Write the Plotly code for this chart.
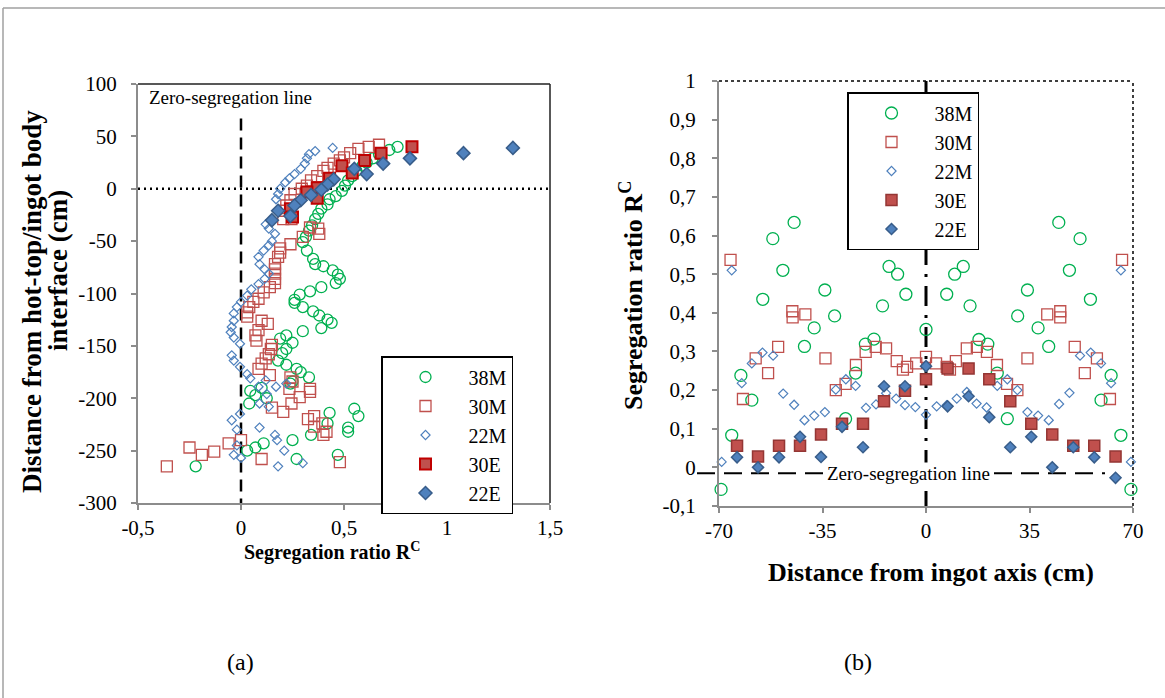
import plotly.graph_objects as go

# ---------------- data: panel (a)  (segregation ratio, distance cm) ----------------
a_38M = [(0.76, 40), (0.72, 37), (0.67, 33), (0.64, 29), (0.61, 25), (0.59, 22), (0.56, 17),
         (0.54, 12), (0.52, 8), (0.505, 3), (0.49, -2), (0.46, -7), (0.43, -10), (0.42, -15),
         (0.39, -19), (0.375, -24), (0.36, -29), (0.345, -35), (0.33, -40), (0.315, -46),
         (0.30, -51), (0.32, -59), (0.35, -67), (0.36, -72), (0.40, -74), (0.445, -78),
         (0.47, -82), (0.48, -86), (0.46, -90), (0.39, -94), (0.335, -98), (0.285, -101),
         (0.26, -106), (0.26, -109), (0.30, -113), (0.35, -117), (0.38, -121), (0.42, -125),
         (0.44, -128), (0.39, -133), (0.30, -136), (0.22, -140), (0.19, -143), (0.25, -147),
         (0.22, -153), (0.20, -157), (0.18, -164), (0.22, -168), (0.27, -172), (0.29, -175),
         (0.33, -180), (0.25, -184), (0.24, -186), (0.10, -190), (0.045, -193), (0.07, -197),
         (0.125, -200), (0.04, -205), (0.55, -210), (0.43, -214), (0.57, -217), (0.42, -224),
         (0.52, -228), (0.52, -232), (0.34, -235), (0.25, -240), (0.11, -243), (0.07, -247),
         (0.03, -250), (0.47, -254), (0.27, -258), (-0.22, -265)]

a_30M = [(0.67, 42), (0.62, 40), (0.57, 38), (0.53, 34), (0.50, 30), (0.48, 27), (0.45, 24),
         (0.42, 20), (0.40, 17), (0.37, 12), (0.34, 8), (0.32, 3), (0.295, 0), (0.26, -5),
         (0.24, -11), (0.22, -16), (0.21, -21), (0.205, -29), (0.245, -29), (0.335, -37),
         (0.375, -38), (0.38, -43), (0.30, -46), (0.24, -53), (0.19, -57), (0.19, -61),
         (0.18, -65), (0.165, -72), (0.165, -77), (0.165, -81), (0.165, -86), (0.165, -90),
         (0.14, -94), (0.11, -99), (0.085, -105), (0.06, -108), (0.04, -113), (0.03, -118),
         (0.03, -122), (0.10, -126), (0.13, -129), (0.085, -135), (0.07, -140), (0.075, -145),
         (0.15, -149), (0.145, -153), (0.135, -158), (0.12, -162), (0.10, -167), (0.085, -172),
         (0.14, -178), (0.24, -180), (0.25, -184), (0.335, -191), (0.235, -191), (0.285, -199),
         (0.335, -194), (0.245, -205), (0.15, -209), (0.205, -213), (0.355, -217), (0.325, -220),
         (0.395, -224), (0.355, -227), (0.415, -232), (0.40, -235), (0.00, -240), (-0.06, -243),
         (-0.25, -247), (-0.13, -251), (-0.19, -254), (0.10, -258), (0.48, -261), (-0.36, -265)]

a_22M = [(0.445, 39), (0.36, 36), (0.33, 33), (0.32, 29), (0.31, 24), (0.29, 19), (0.26, 14),
         (0.235, 10), (0.215, 6), (0.19, 0), (0.18, -5), (0.17, -10), (0.12, -34), (0.135, -38),
         (0.165, -43), (0.15, -50), (0.135, -54), (0.11, -59), (0.085, -65), (0.09, -72),
         (0.115, -77), (0.135, -81), (0.115, -86), (0.085, -91), (0.05, -96), (0.03, -102),
         (0.00, -108), (-0.02, -113), (-0.035, -119), (-0.035, -126), (-0.045, -132),
         (-0.05, -137), (-0.035, -142), (-0.005, -148), (-0.045, -159), (-0.035, -164),
         (-0.005, -170), (0.03, -177), (0.045, -181), (0.12, -183), (0.22, -186), (0.17, -189),
         (0.085, -189), (0.125, -196), (0.09, -205), (0.135, -208), (-0.005, -215),
         (-0.045, -221), (0.09, -228), (-0.02, -230), (0.165, -235), (0.175, -240),
         (-0.02, -245), (0.21, -250), (-0.035, -254), (0.00, -257), (0.30, -262), (0.18, -265)]

a_30E = [(0.83, 40), (0.68, 34), (0.60, 27), (0.49, 22), (0.54, 15), (0.43, 10), (0.37, 1),
         (0.32, -3), (0.37, -9), (0.24, -19), (0.25, -27)]

a_22E = [(1.32, 39), (1.08, 34), (0.82, 29), (0.69, 24), (0.55, 19), (0.61, 14), (0.45, 9),
         (0.42, 4), (0.39, -1), (0.34, -6), (0.29, -11), (0.26, -16), (0.18, -21), (0.24, -26),
         (0.15, -30)]

# ---------------- data: panel (b)  (distance from axis cm, segregation ratio) ----------------
b_38M = [(-69.3, -0.057), (-65.7, 0.083), (-62.6, 0.238), (-58.9, 0.174), (-55.2, 0.435),
         (-51.8, 0.592), (-48.4, 0.51), (-44.6, 0.634), (-41.1, 0.313), (-37.8, 0.361),
         (-34.2, 0.459), (-30.9, 0.392), (-27.2, 0.126), (-23.8, 0.244), (-20.5, 0.319),
         (-17.6, 0.332), (-14.7, 0.418), (-12.5, 0.52), (-9.6, 0.50), (-6.8, 0.448), (0, 0.357),
         (7.0, 0.448), (9.7, 0.50), (12.6, 0.52), (14.9, 0.418), (17.9, 0.331), (20.9, 0.319),
         (24.1, 0.244), (27.5, 0.126), (31.0, 0.392), (34.3, 0.459), (37.9, 0.361), (41.5, 0.313),
         (44.9, 0.634), (48.5, 0.51), (52.1, 0.592), (55.6, 0.435), (59.2, 0.174), (62.6, 0.238),
         (65.9, 0.083), (69.3, -0.057)]

b_30M = [(-66.1, 0.537), (-61.9, 0.177), (-57.6, 0.282), (-53.4, 0.244), (-50.0, 0.312),
         (-45.2, 0.404), (-45.1, 0.388), (-40.8, 0.396), (-34.0, 0.282), (-30.5, 0.200),
         (-27.2, 0.216), (-23.7, 0.265), (-20.4, 0.299), (-17.0, 0.312), (-13.5, 0.308),
         (-9.9, 0.275), (-7.8, 0.253), (-6.4, 0.260), (-3.3, 0.269), (0, 0.286), (3.4, 0.269),
         (7.0, 0.260), (8.1, 0.253), (10.1, 0.275), (13.8, 0.308), (17.2, 0.312), (20.6, 0.299),
         (24.0, 0.265), (27.4, 0.216), (30.9, 0.200), (34.3, 0.282), (41.0, 0.396), (45.4, 0.404),
         (45.4, 0.388), (50.3, 0.312), (53.7, 0.244), (57.8, 0.282), (62.2, 0.177), (66.3, 0.537)]

b_22M = [(-69.1, 0.014), (-65.7, 0.51), (-62.3, 0.218), (-58.9, 0.269), (-55.3, 0.297),
         (-51.7, 0.289), (-48.3, 0.191), (-44.6, 0.162), (-41.1, 0.122), (-37.8, 0.134),
         (-34.2, 0.143), (-30.5, 0.201), (-27.1, 0.228), (-23.8, 0.211), (-20.3, 0.154),
         (-16.9, 0.163), (-13.5, 0.192), (-10.1, 0.178), (-7.1, 0.161), (-3.6, 0.156), (0, 0.136),
         (3.6, 0.158), (7.0, 0.161), (10.4, 0.178), (13.8, 0.195), (17.1, 0.165), (20.5, 0.155),
         (24.1, 0.211), (27.5, 0.228), (30.9, 0.200), (34.3, 0.143), (37.9, 0.134), (41.5, 0.122),
         (45.0, 0.164), (48.5, 0.193), (52.1, 0.289), (55.7, 0.297), (59.2, 0.269), (62.6, 0.218),
         (65.9, 0.51), (69.3, 0.014)]

b_30E = [(-63.9, 0.056), (-56.8, 0.028), (-49.7, 0.056), (-42.6, 0.056), (-35.5, 0.085),
         (-28.4, 0.113), (-21.3, 0.113), (-14.2, 0.171), (-7.1, 0.198), (0, 0.228), (7.3, 0.256),
         (14.4, 0.256), (21.4, 0.228), (28.5, 0.171), (35.6, 0.113), (42.7, 0.085), (49.8, 0.056),
         (56.9, 0.056), (64.1, 0.028)]

b_22E = [(-63.9, 0.026), (-56.8, 0.0), (-49.7, 0.026), (-42.6, 0.079), (-35.5, 0.027),
         (-28.4, 0.105), (-21.3, 0.052), (-14.2, 0.21), (-7.1, 0.21), (0, 0.262), (7.3, 0.158),
         (14.4, 0.184), (21.4, 0.13), (28.5, 0.052), (35.6, 0.079), (42.7, 0.0), (49.8, 0.052),
         (56.9, 0.026), (64.1, -0.027)]

series_names = ["38M", "30M", "22M", "30E", "22E"]

# tick labels
a_xticks = [-0.5, 0, 0.5, 1, 1.5]
a_xticktext = ["-0,5", "0", "0,5", "1", "1,5"]
a_yticks = [100, 50, 0, -50, -100, -150, -200, -250, -300]
a_yticktext = ["100", "50", "0", "-50", "-100", "-150", "-200", "-250", "-300"]
b_xticks = [-70, -35, 0, 35, 70]
b_xticktext = ["-70", "-35", "0", "35", "70"]
b_yticks = [1, 0.9, 0.8, 0.7, 0.6, 0.5, 0.4, 0.3, 0.2, 0.1, 0, -0.1]
b_yticktext = ["1", "0,9", "0,8", "0,7", "0,6", "0,5", "0,4", "0,3", "0,2", "0,1", "0", "-0,1"]

# ---------------- styling ----------------
W, H = 1165, 698
FONT = "Liberation Serif, Times New Roman, serif"
GREEN, RED, BLUE = "#00B050", "#C0504D", "#4F81BD"
AXGRAY = "#8C8C8C"


def px(x):
    return x / W


def py(y):
    return 1 - y / H


styles_a = [
    dict(symbol="circle-open", size=11, color=GREEN, line=dict(width=1.3, color=GREEN)),
    dict(symbol="square-open", size=11, color=RED, line=dict(width=1.3, color=RED)),
    dict(symbol="diamond-open", size=7, color=BLUE, line=dict(width=1.2, color=BLUE)),
    dict(symbol="square", size=11, color=RED, line=dict(width=2, color="#C00000")),
    dict(symbol="diamond", size=10, color=BLUE, line=dict(width=1.5, color="#385D8A")),
]
styles_b = [
    dict(symbol="circle-open", size=12, color=GREEN, line=dict(width=1.3, color=GREEN)),
    dict(symbol="square-open", size=11, color=RED, line=dict(width=1.3, color=RED)),
    dict(symbol="diamond-open", size=7, color=BLUE, line=dict(width=1.2, color=BLUE)),
    dict(symbol="square", size=11, color=RED, line=dict(width=1.5, color="#943634")),
    dict(symbol="diamond", size=8.5, color=BLUE, line=dict(width=1.5, color="#385D8A")),
]

fig = go.Figure()
for name, data, st in zip(series_names, [a_38M, a_30M, a_22M, a_30E, a_22E], styles_a):
    fig.add_trace(go.Scatter(x=[p[0] for p in data], y=[p[1] for p in data], mode="markers",
                             name=name, marker=st, xaxis="x", yaxis="y", legend="legend",
                             cliponaxis=False))
for name, data, st in zip(series_names, [b_38M, b_30M, b_22M, b_30E, b_22E], styles_b):
    fig.add_trace(go.Scatter(x=[p[0] for p in data], y=[p[1] for p in data], mode="markers",
                             name=name, marker=st, xaxis="x2", yaxis="y2", legend="legend2",
                             cliponaxis=False))

tickfont = dict(family=FONT, size=21, color="black")
axcommon = dict(showgrid=False, zeroline=False, showline=True, linecolor=AXGRAY, linewidth=2,
                ticks="outside", ticklen=5, tickwidth=1.5, tickcolor=AXGRAY, tickfont=tickfont,
                automargin=False, fixedrange=True)

legfont = dict(family=FONT, size=20, color="black")
fig.update_layout(
    width=W, height=H, margin=dict(l=0, r=0, t=0, b=0),
    paper_bgcolor="white", plot_bgcolor="white",
    font=dict(family=FONT, color="black"),
    xaxis=dict(domain=[px(138), px(550)], range=[-0.5, 1.5], tickvals=a_xticks,
               ticktext=a_xticktext, anchor="y", ticklabelstandoff=0, **axcommon),
    yaxis=dict(domain=[py(503), py(84)], range=[-300, 100], tickvals=a_yticks,
               ticktext=a_yticktext, anchor="x", ticklabelstandoff=10, **axcommon),
    xaxis2=dict(domain=[px(719), px(1133)], range=[-70, 70], tickvals=b_xticks,
                ticktext=b_xticktext, anchor="y2", ticklabelstandoff=0, **axcommon),
    yaxis2=dict(domain=[py(506), py(81)], range=[-0.1, 1], tickvals=b_yticks,
                ticktext=b_yticktext, anchor="x2", ticklabelstandoff=12, **axcommon),
    legend=dict(x=px(381), y=py(356), xanchor="left", yanchor="top", bgcolor="white",
                bordercolor="black", borderwidth=1.5, itemwidth=76, font=legfont,
                tracegroupgap=0),
    legend2=dict(x=px(847), y=py(92), xanchor="left", yanchor="top", bgcolor="white",
                 bordercolor="black", borderwidth=1.5, itemwidth=76, font=legfont,
                 tracegroupgap=0),
    showlegend=True,
)

shapes = [
    # outer frame (top and left visible edges)
    dict(type="line", xref="paper", yref="paper", x0=px(3), x1=1.01, y0=py(8), y1=py(8),
         line=dict(color="#A0A0A0", width=1.5)),
    dict(type="line", xref="paper", yref="paper", x0=px(3), x1=px(3), y0=py(8), y1=-0.01,
         line=dict(color="#A0A0A0", width=1.5)),
    # panel (a) top/right border
    dict(type="line", xref="x domain", yref="y domain", x0=0, x1=1, y0=1, y1=1,
         line=dict(color="#202020", width=1.5)),
    dict(type="line", xref="x domain", yref="y domain", x0=1, x1=1, y0=0, y1=1,
         line=dict(color="#202020", width=1.5)),
    # panel (a) zero-segregation line (vertical dashed) and interface line (dotted)
    dict(type="line", xref="x", yref="y", x0=0, x1=0, y0=67, y1=-300, layer="below",
         line=dict(color="black", width=2.5, dash="12px,7px")),
    dict(type="line", xref="x domain", yref="y", x0=0, x1=1, y0=0, y1=0, layer="below",
         line=dict(color="black", width=2.5, dash="2px,4px")),
    # panel (b) dotted top/right border
    dict(type="line", xref="x2 domain", yref="y2 domain", x0=0, x1=1, y0=1, y1=1,
         line=dict(color="black", width=1.5, dash="dot")),
    dict(type="line", xref="x2 domain", yref="y2 domain", x0=1, x1=1, y0=0, y1=1,
         line=dict(color="black", width=1.5, dash="dot")),
    # panel (b) axis line (dash-dot) and zero-segregation line (dashed)
    dict(type="line", xref="x2", yref="y2", x0=0, x1=0, y0=1, y1=-0.1, layer="below",
         line=dict(color="black", width=3, dash="20px,9px,3px,9px")),
    dict(type="line", xref="paper", yref="y2", x0=px(697), x1=px(1105), y0=-0.015, y1=-0.015,
         layer="below", line=dict(color="black", width=2, dash="18px,9px")),
]
fig.update_layout(shapes=shapes)

vtitle = dict(family=FONT, size=26, color="black")
annotations = [
    dict(text="Zero-segregation line", xref="paper", yref="paper", x=px(147), y=py(98),
         xanchor="left", yanchor="middle", showarrow=False,
         font=dict(family=FONT, size=19, color="black")),
    dict(text="Zero-segregation line", xref="paper", yref="y2", x=px(908), y=-0.015,
         xanchor="center", yanchor="middle", showarrow=False, bgcolor="white", borderpad=0,
         font=dict(family=FONT, size=19, color="black")),
    dict(text="<b>Segregation ratio R<sup>C</sup></b>", xref="paper", yref="paper",
         x=px(332), y=py(551), xanchor="center", yanchor="middle", showarrow=False,
         font=dict(family=FONT, size=20, color="black")),
    dict(text="<b>Distance from hot-top/ingot body</b>", xref="paper",
         yref="paper", x=px(32), y=py(302), xanchor="center", yanchor="middle",
         showarrow=False, textangle=-90, font=dict(family=FONT, size=27, color="black")),
    dict(text="<b>interface (cm)</b>", xref="paper",
         yref="paper", x=px(58), y=py(271), xanchor="center", yanchor="middle",
         showarrow=False, textangle=-90, font=dict(family=FONT, size=27, color="black")),
    dict(text="<b>Distance from ingot axis (cm)</b>", xref="paper", yref="paper",
         x=px(931), y=py(572), xanchor="center", yanchor="middle", showarrow=False,
         font=vtitle),
    dict(text="<b>Segregation ratio R<sup>C</sup></b>", xref="paper", yref="paper",
         x=px(632), y=py(295), xanchor="center", yanchor="middle", showarrow=False,
         textangle=-90, font=vtitle),
    dict(text="(a)", xref="paper", yref="paper", x=px(240), y=py(662), xanchor="center",
         yanchor="middle", showarrow=False, font=dict(family=FONT, size=24, color="black")),
    dict(text="(b)", xref="paper", yref="paper", x=px(858), y=py(662), xanchor="center",
         yanchor="middle", showarrow=False, font=dict(family=FONT, size=24, color="black")),
]
fig.update_layout(annotations=annotations)

fig.write_html("out.html", config={"displayModeBar": False},
               post_script="document.body.style.margin='0';")
